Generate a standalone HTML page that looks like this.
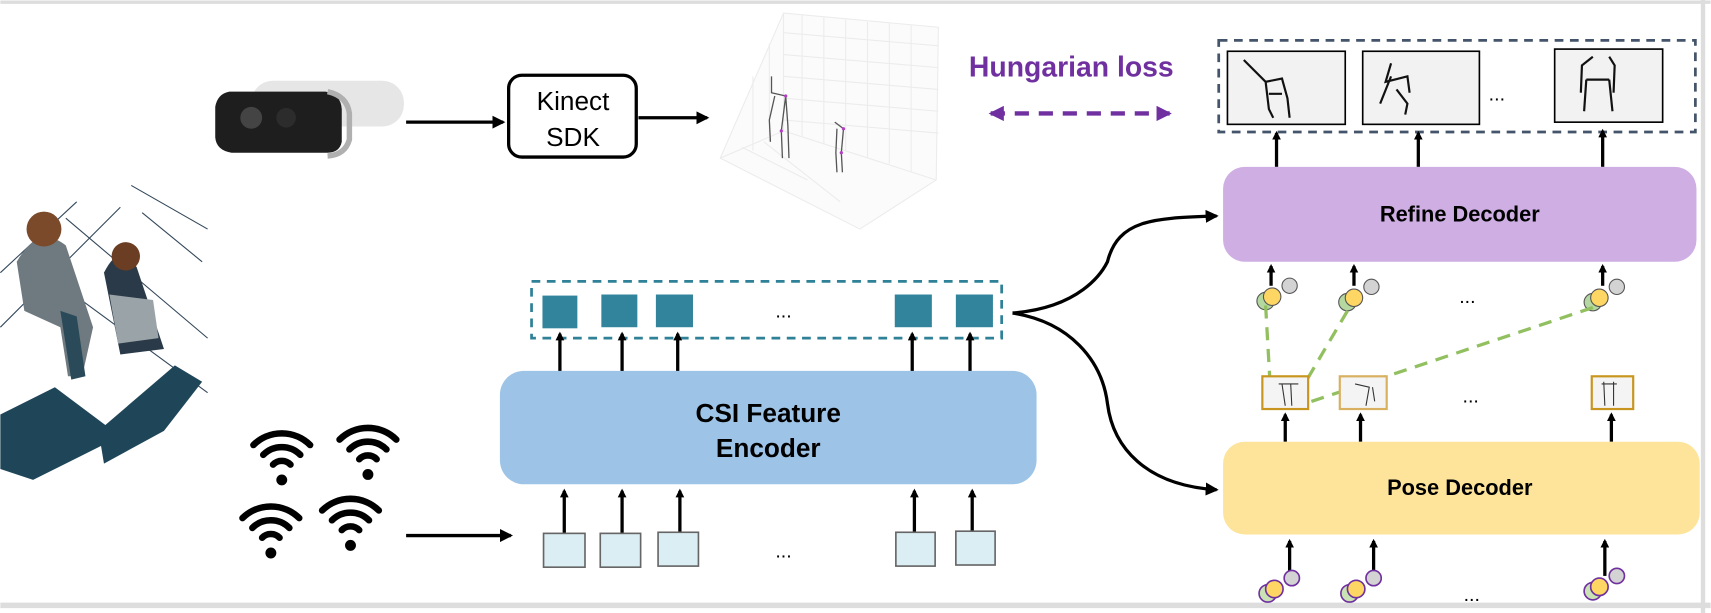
<!DOCTYPE html>
<html><head><meta charset="utf-8"><style>
html,body{margin:0;padding:0;background:#fff}
svg{display:block}
text{font-family:"Liberation Sans",sans-serif}
</style></head><body>
<svg width="1711" height="613" viewBox="0 0 1568 562" xmlns="http://www.w3.org/2000/svg">
<defs>
<marker id="ah" markerWidth="8" markerHeight="8" refX="6" refY="4" orient="auto" markerUnits="userSpaceOnUse"><path d="M0,0 L8,4 L0,8 Z" fill="#000"/></marker>
<marker id="ahb" markerWidth="12" markerHeight="12" refX="10" refY="6" orient="auto" markerUnits="userSpaceOnUse"><path d="M0,0 L12,6 L0,12 Z" fill="#000"/></marker>
<marker id="ahp" markerWidth="14" markerHeight="14" refX="12" refY="7" orient="auto-start-reverse" markerUnits="userSpaceOnUse"><path d="M0,0 L14,7 L0,14 Z" fill="#7030a0"/></marker>
<g id="wifi" fill="none" stroke="#000" stroke-width="6" stroke-linecap="round">
<path d="M-26,-10 A37,37 0 0 1 26,-10"/><path d="M-17,-1 A24,24 0 0 1 17,-1"/><path d="M-8,8 A11,11 0 0 1 8,8"/><circle cx="0" cy="22" r="5" fill="#000" stroke="none"/>
</g>
<g id="trio">
<circle cx="16" cy="-10" r="7" fill="#d3d3d3" stroke="#555" stroke-width="1"/>
<circle cx="-6" cy="4" r="8" fill="#b5d8a0" stroke="#555" stroke-width="1"/>
<circle cx="0" cy="0" r="8" fill="#fdd663" stroke="#555" stroke-width="1"/>
</g>
<g id="trioP">
<circle cx="16" cy="-10" r="7" fill="#d3d3d3" stroke="#7030a0" stroke-width="1.5"/>
<circle cx="-6" cy="4" r="8" fill="#c9e3b5" stroke="#7030a0" stroke-width="1.5"/>
<circle cx="0" cy="0" r="8" fill="#fdd663" stroke="#7030a0" stroke-width="1.5"/>
</g>
</defs>
<rect x="0" y="0" width="1568" height="562" fill="#fff"/>
<line x1="0" y1="2" x2="1568" y2="2" stroke="#ddd" stroke-width="3"/>
<line x1="1561" y1="0" x2="1561" y2="562" stroke="#ddd" stroke-width="4"/>
<line x1="0" y1="555" x2="1568" y2="555" stroke="#ddd" stroke-width="5"/>

<!-- people illustration (approx) -->
<g>
<path d="M0,250 L70,185 M0,300 L110,190 M60,200 L190,310 M40,250 L190,360 M130,195 L185,240 M120,170 L190,210" stroke="#33475a" stroke-width="1" fill="none"/>
<path d="M0,380 L50,355 L110,400 L70,420 L30,440 L0,430 Z" fill="#1f4658"/>
<path d="M90,395 L160,335 L185,350 L150,395 L95,425 Z" fill="#1f4658"/>
<path d="M15,240 Q35,205 60,225 L85,300 L75,345 L62,345 L55,300 L22,285 Z" fill="#6f7a80"/>
<path d="M55,285 L70,290 L78,345 L65,348 Z" fill="#2a4a5a"/>
<circle cx="40" cy="210" r="16" fill="#7a4a2a"/>
<path d="M95,250 Q110,220 125,245 L150,320 L110,325 Z" fill="#2a3a48"/>
<path d="M100,270 L140,275 L145,310 L108,315 Z" fill="#9aa3a8"/>
<circle cx="115" cy="235" r="13" fill="#6b3d22"/>
</g>

<!-- camera -->
<g>
<rect x="230" y="74" width="140" height="42" rx="20" fill="#e6e6e6"/>
<path d="M210,84 L298,84 Q312,86 313,100 L313,130 Q311,140 300,140 L212,140 Q198,138 197,126 L197,98 Q199,86 210,84Z" fill="#1e1e1e"/>
<path d="M300,84 Q318,88 320,104 L320,128 Q316,142 300,143" fill="none" stroke="#b0b0b0" stroke-width="5"/>
<circle cx="230" cy="108" r="10" fill="#444"/><circle cx="262" cy="108" r="9" fill="#2c2c2c"/>
</g>
<line x1="372" y1="112" x2="461" y2="112" stroke="#000" stroke-width="3" marker-end="url(#ahb)"/>
<rect x="466" y="69" width="117" height="75" rx="12" fill="#fff" stroke="#000" stroke-width="3"/>
<text x="525" y="101" font-size="24" text-anchor="middle">Kinect</text>
<text x="525" y="134" font-size="24" text-anchor="middle">SDK</text>
<line x1="585" y1="108" x2="648" y2="108" stroke="#000" stroke-width="3" marker-end="url(#ahb)"/>

<!-- 3D plot -->
<g stroke="#ececec" stroke-width="1" fill="none">
<path d="M718,12 L860,25 L858,165 L788,210 L660,145 L718,12 Z" fill="#fbfbfb"/>
<path d="M718,12 L718,120 L660,145 M718,120 L858,165"/>
<path d="M735,14 L735,125 M755,16 L755,132 M775,18 L775,138 M795,20 L795,145 M815,21 L815,150 M835,23 L835,157"/>
<path d="M718,30 L860,42 M718,50 L860,62 M718,70 L860,82 M718,90 L860,102 M718,110 L860,122"/>
<path d="M705,40 L705,130 M690,70 L690,138 M680,135 L740,165 M700,130 L770,185"/>
</g>
<g stroke="#555" stroke-width="1.2" fill="none">
<path d="M707,70 L707,85 L720,88 L716,120 L717,145 M720,88 L722,115 L723,145 M710,88 L705,110 L706,130"/>
<path d="M765,112 L773,118 L771,140 L772,158 M767,118 L766,140 L767,158"/>
</g>
<g fill="#b040c0"><circle cx="720" cy="88" r="1.5"/><circle cx="716" cy="120" r="1.5"/><circle cx="773" cy="118" r="1.5"/><circle cx="771" cy="140" r="1.5"/></g>

<text x="888" y="70" font-size="26" font-weight="bold" fill="#7030a0">Hungarian loss</text>
<line x1="908" y1="104" x2="1072" y2="104" stroke="#7030a0" stroke-width="4" stroke-dasharray="13,9" marker-end="url(#ahp)" marker-start="url(#ahp)"/>

<rect x="1117" y="37" width="437" height="84" fill="none" stroke="#44546a" stroke-width="2.5" stroke-dasharray="8,6"/>
<g stroke="#000" stroke-width="1.5" fill="#f2f2f2">
<rect x="1125" y="47" width="108" height="67"/><rect x="1249" y="47" width="107" height="67"/><rect x="1425" y="45" width="99" height="67"/>
</g>
<g stroke="#111" stroke-width="2" fill="none">
<path d="M1140,55 L1160,75 L1175,72 L1180,90 L1182,108 M1160,75 L1163,100 L1167,108 M1163,86 L1175,86"/>
<path d="M1275,58 L1270,75 L1290,70 L1292,85 M1275,70 L1265,95 M1280,82 L1290,95 L1288,105"/>
<path d="M1460,52 L1450,60 L1449,85 M1475,52 L1480,60 L1479,85 M1454,73 L1452,102 M1475,73 L1478,102 M1454,73 L1475,73"/>
</g>
<text x="1372" y="92" font-size="18" text-anchor="middle">...</text>
<g stroke="#000" stroke-width="3">
<line x1="1170" y1="153" x2="1170" y2="122" marker-end="url(#ah)"/>
<line x1="1300" y1="153" x2="1300" y2="122" marker-end="url(#ah)"/>
<line x1="1469" y1="153" x2="1469" y2="120" marker-end="url(#ah)"/>
</g>

<rect x="1121" y="153" width="434" height="87" rx="20" fill="#cfaee3"/>
<text x="1338" y="203" font-size="20" font-weight="bold" text-anchor="middle">Refine Decoder</text>
<g stroke="#000" stroke-width="3">
<line x1="1165" y1="262" x2="1165" y2="244" marker-end="url(#ah)"/>
<line x1="1241" y1="262" x2="1241" y2="244" marker-end="url(#ah)"/>
<line x1="1469" y1="262" x2="1469" y2="244" marker-end="url(#ah)"/>
</g>
<use href="#trio" x="1166" y="272"/><use href="#trio" x="1241" y="273"/><use href="#trio" x="1466" y="273"/>
<text x="1345" y="278" font-size="18" text-anchor="middle">...</text>
<g stroke="#92c060" stroke-width="3" stroke-dasharray="12,8" fill="none">
<path d="M1160,280 L1165,368"/><path d="M1235,285 L1185,370"/><path d="M1460,282 L1190,372"/>
</g>

<g fill="#f4f4f4" stroke="#c8961e" stroke-width="2">
<rect x="1157" y="345" width="42" height="30"/><rect x="1228" y="345" width="43" height="30" stroke="#d8b060"/><rect x="1459" y="345" width="38" height="30"/>
</g>
<g stroke="#333" stroke-width="1" fill="none">
<path d="M1175,352 L1178,372 M1183,352 L1184,372 M1172,352 L1190,352"/>
<path d="M1242,352 L1255,355 L1252,372 M1258,355 L1260,368"/>
<path d="M1470,350 L1471,372 M1479,350 L1479,372 M1468,352 L1482,352"/>
</g>
<text x="1348" y="369" font-size="18" text-anchor="middle">...</text>
<g stroke="#000" stroke-width="3">
<line x1="1178" y1="405" x2="1178" y2="380" marker-end="url(#ah)"/>
<line x1="1247" y1="405" x2="1247" y2="380" marker-end="url(#ah)"/>
<line x1="1477" y1="405" x2="1477" y2="380" marker-end="url(#ah)"/>
</g>

<rect x="1121" y="405" width="437" height="85" rx="20" fill="#fde49a"/>
<text x="1338" y="454" font-size="20" font-weight="bold" text-anchor="middle">Pose Decoder</text>
<g stroke="#000" stroke-width="3">
<line x1="1182" y1="528" x2="1182" y2="496" marker-end="url(#ah)"/>
<line x1="1259" y1="528" x2="1259" y2="496" marker-end="url(#ah)"/>
<line x1="1471" y1="528" x2="1471" y2="496" marker-end="url(#ah)"/>
</g>
<use href="#trioP" x="1168" y="540"/><use href="#trioP" x="1243" y="540"/><use href="#trioP" x="1466" y="538"/>
<text x="1349" y="551" font-size="18" text-anchor="middle">...</text>

<g fill="none" stroke="#000" stroke-width="3">
<path d="M928,287 C990,282 1010,250 1015,240 C1025,200 1060,200 1115,198" marker-end="url(#ahb)"/>
<path d="M928,287 C980,295 1010,330 1015,370 C1020,410 1050,445 1115,449" marker-end="url(#ahb)"/>
</g>

<rect x="487" y="258" width="431" height="52" fill="none" stroke="#2f8197" stroke-width="2.5" stroke-dasharray="8,6"/>
<g fill="#31849b">
<rect x="497" y="271" width="32" height="30"/><rect x="551" y="270" width="33" height="30"/><rect x="601" y="270" width="34" height="30"/><rect x="820" y="270" width="34" height="30"/><rect x="876" y="270" width="34" height="30"/>
</g>
<text x="718" y="291" font-size="18" text-anchor="middle">...</text>
<g stroke="#000" stroke-width="3">
<line x1="513" y1="341" x2="513" y2="306" marker-end="url(#ah)"/>
<line x1="570" y1="341" x2="570" y2="306" marker-end="url(#ah)"/>
<line x1="621" y1="341" x2="621" y2="306" marker-end="url(#ah)"/>
<line x1="836" y1="341" x2="836" y2="306" marker-end="url(#ah)"/>
<line x1="889" y1="341" x2="889" y2="306" marker-end="url(#ah)"/>
</g>

<rect x="458" y="340" width="492" height="104" rx="22" fill="#9dc3e6"/>
<text x="704" y="387" font-size="24" font-weight="bold" text-anchor="middle">CSI Feature</text>
<text x="704" y="419" font-size="24" font-weight="bold" text-anchor="middle">Encoder</text>
<g stroke="#000" stroke-width="3">
<line x1="517" y1="490" x2="517" y2="450" marker-end="url(#ah)"/>
<line x1="570" y1="490" x2="570" y2="450" marker-end="url(#ah)"/>
<line x1="623" y1="490" x2="623" y2="450" marker-end="url(#ah)"/>
<line x1="838" y1="490" x2="838" y2="450" marker-end="url(#ah)"/>
<line x1="891" y1="490" x2="891" y2="450" marker-end="url(#ah)"/>
</g>
<g fill="#dbeef4" stroke="#666" stroke-width="1.5">
<rect x="498" y="489" width="38" height="31"/><rect x="550" y="489" width="37" height="31"/><rect x="603" y="488" width="37" height="31"/><rect x="821" y="488" width="36" height="31"/><rect x="876" y="487" width="36" height="31"/>
</g>
<text x="718" y="511" font-size="18" text-anchor="middle">...</text>

<use href="#wifi" x="258" y="418"/><use href="#wifi" x="337" y="413"/><use href="#wifi" x="248" y="485"/><use href="#wifi" x="321" y="478"/>
<line x1="372" y1="491" x2="468" y2="491" stroke="#000" stroke-width="3" marker-end="url(#ahb)"/>
</svg>
</body></html>
